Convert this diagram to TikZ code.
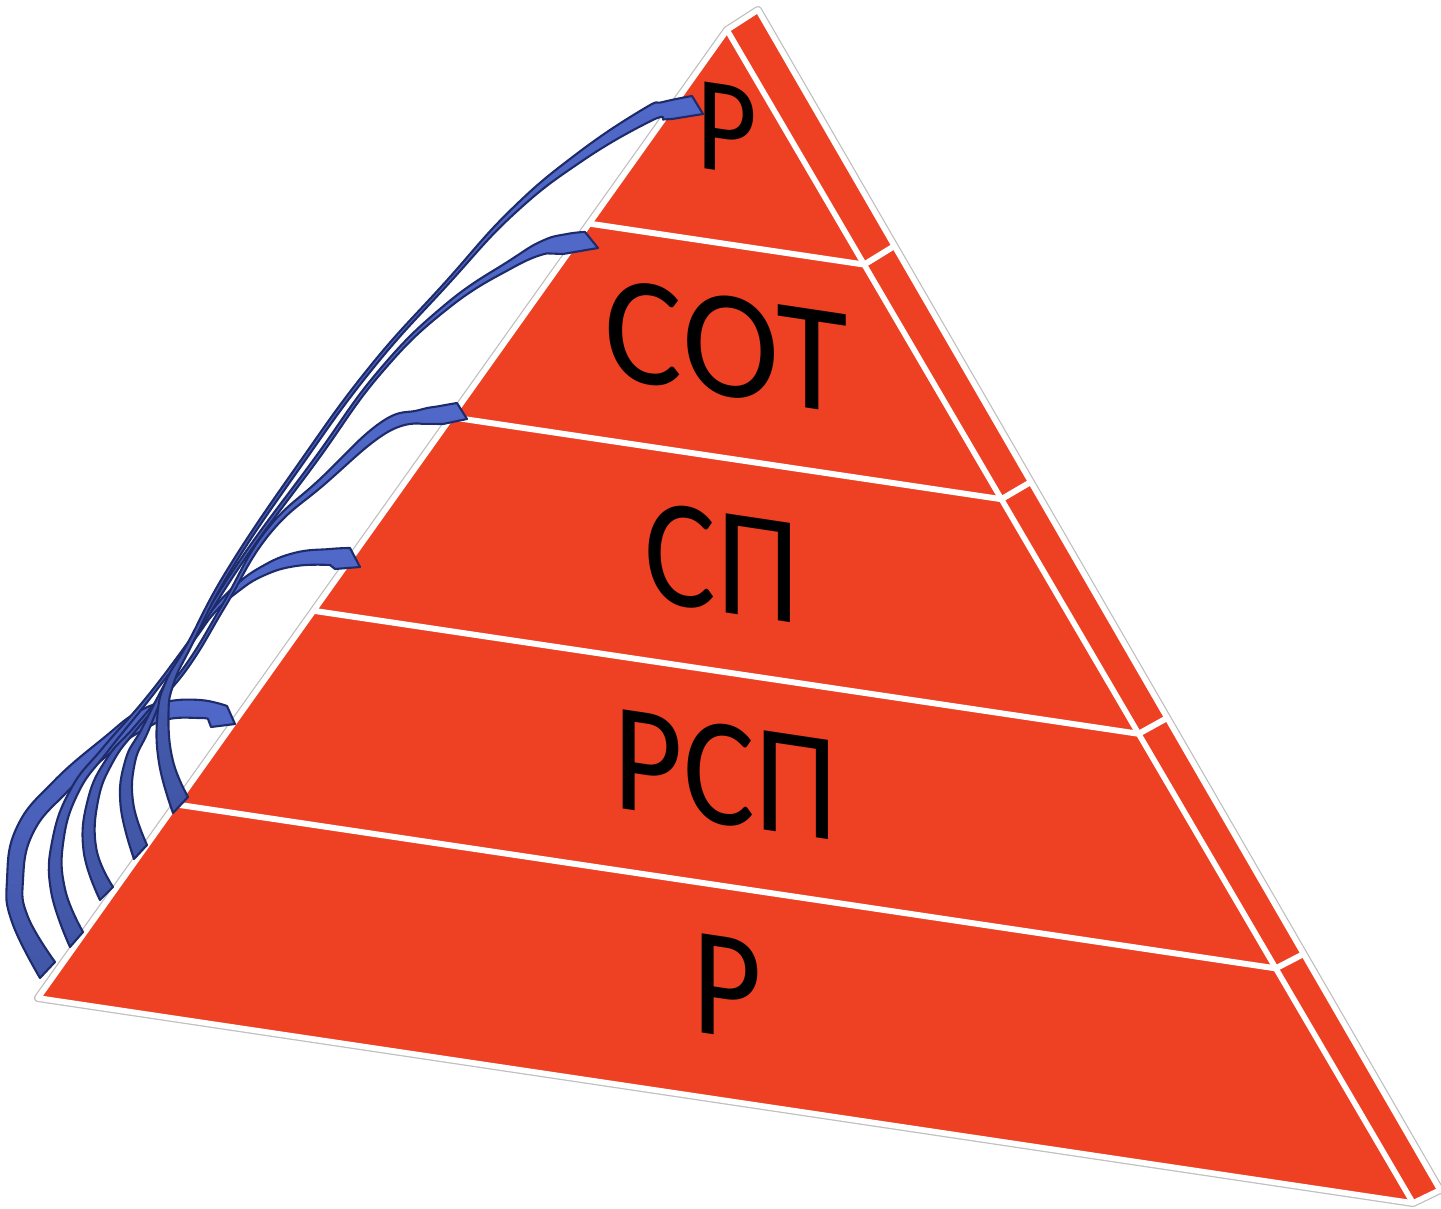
\documentclass[tikz,border=0pt]{standalone}
\usepackage{fontspec}
\newfontfamily\pyrfont{Carlito}
\usetikzlibrary{calc}
\definecolor{pyrred}{HTML}{EE4023}
\definecolor{arrnavy}{HTML}{1E2B6B}
\definecolor{arrlight}{HTML}{5068C8}
\definecolor{arrdark}{HTML}{4256A6}
\tikzset{
  face/.style={fill=pyrred},
  rim/.style={draw=black!25, line width=4.6pt, line join=round},
  seam/.style={draw=white, line width=3.2pt, line join=round},
  layerline/.style={draw=white, line width=3.4pt},
  lbl/.style={font=\pyrfont\fontsize{88}{90}\selectfont, text=black, yslant=-0.15, xscale=0.87, inner sep=0pt},
  toplbl/.style={lbl, font=\pyrfont\fontsize{77}{80}\selectfont},
  widelbl/.style={lbl, xscale=1.09},
  curvarrow/.style={draw=arrnavy, line width=1.2pt, top color=arrlight, bottom color=arrdark, line join=round},
  edge/.style={smooth, tension=0.75}
}
\begin{document}
\begin{tikzpicture}[x={(0.02cm,0)}, y={(0,-0.02cm)}]
\useasboundingbox (0,0) rectangle (1441,1209);
% pyramid corners
\coordinate (A) at (727,30);
\coordinate (L) at (38,998);
\coordinate (R) at (1413,1203);
\coordinate (S) at (758,10);
\coordinate (SR) at (1440,1190);
% outline and faces
\draw[rim] (A) -- (S) -- (SR) -- (R) -- (L) -- cycle;
\fill[face] (A) -- (S) -- (SR) -- (R) -- (L) -- cycle;
\draw[seam] (A) -- (S) -- (SR) -- (R) -- (L) -- cycle;
\draw[seam] (A) -- (R);
% layer dividers
\foreach \k in {1,2,3,4} {
  \coordinate (l\k) at ($(A)!\k*0.2!(L)$);
  \coordinate (r\k) at ($(A)!\k*0.2!(R)$);
  \coordinate (s\k) at ($(S)!\k*0.2!(SR)$);
  \draw[layerline] (l\k) -- (r\k) -- (s\k);
}
% labels
\node[toplbl] (t1) at (727,129) {Р};
\node[widelbl] (t2) at (726,346) {СОТ};
\node[lbl] (t3) at (722,563) {СП};
\node[lbl] (t4) at (726,775) {РСП};
\node[lbl] (t5) at (727,987) {Р};
% arrow heads (tips)
\coordinate (h1) at (703,114);
\coordinate (h2) at (598,248);
\coordinate (h3) at (467,419);
\coordinate (h4) at (360,567);
\coordinate (h5) at (235,724);
% arrow to bottom P
\shadedraw[curvarrow] plot[edge] coordinates {(40,978) (12,922) (7,880) (17,827) (54,781) (106,736) (136,713) (165,702) (200,700) (227,706)}
  -- (h5) -- (211,727)
  -- plot[edge] coordinates {(208,719) (200,718) (169,719) (145,729) (114,750) (66,793) (33,833) (23,880) (28,917) (55,962)} -- cycle;
% arrow to RSP
\shadedraw[curvarrow] plot[edge] coordinates {(70,947) (51,891) (52.6,839) (71.4,788) (102.7,748) (148,695.5) (191,638.5) (211,611.4) (233,587.7) (260.2,567.4) (294,553) (330,549) (350,548)}
  -- (h4) -- (335,569)
  -- plot[edge] coordinates {(330,565) (296,566) (263.8,575.5) (237,592.3) (213.8,613.6) (193.8,640.6) (150.8,697.6) (107.3,752) (78.6,792) (63.4,841) (65,889) (83,932)} -- cycle;
% arrow to SP
\shadedraw[curvarrow] plot[edge] coordinates {(100,900) (83.6,851) (88,799) (107,758.2) (133,728.4) (161,695.4) (190,658.6) (222.9,603.7) (265.7,531.1) (320.7,478.4) (380.3,422.8) (418.7,410.2) (440,406) (457,403)}
  -- (h3) -- (443,424)
  -- plot[edge] coordinates {(421.3,423.8) (385.7,433.2) (325.3,483.6) (269.3,534.3) (225.8,605.5) (192.8,660.6) (163.8,697.6) (135.8,730.6) (113,761.8) (98,801) (96.4,849) (113,887)} -- cycle;
% arrow to SOT
\shadedraw[curvarrow] plot[edge] coordinates {(134,859) (120.6,805.8) (125.2,760.9) (141.9,728.5) (164.8,683.8) (187.9,643.7) (241,558.6) (313,460.5) (378.1,371.4) (445.1,304.7) (511.2,259.5) (542.8,240.6) (567,234) (585,232)}
  -- (h2) -- (563,254)
  -- plot[edge] coordinates {(547.2,253.4) (514.8,266.5) (448,308.5) (380.8,373.6) (315.8,462.6) (243.8,560.6) (190.8,645.5) (167.9,685.5) (148.1,731.5) (134.8,763.1) (133.4,804.2) (147,845)} -- cycle;
% arrow to top P
\shadedraw[curvarrow] plot[edge] coordinates {(173,813) (159.1,763.4) (157.5,714.7) (166.3,680.6) (187.4,643.6) (227.9,568.7) (297.9,464.6) (370,366.4) (445.2,282.3) (510.9,209.8) (577.3,153.4) (643.7,108.8) (663,102) (692,96)}
  -- (h1) -- (672,119)
  -- plot[edge] coordinates {(663,119.5) (650.3,121.2) (582.7,160.6) (514.4,213.6) (447.7,284.7) (372.8,368.6) (300.8,466.6) (230.8,570.5) (191.5,645.6) (173.7,683.4) (168.5,715.3) (172.9,760.6) (188,797)} -- cycle;
\end{tikzpicture}
\end{document}
